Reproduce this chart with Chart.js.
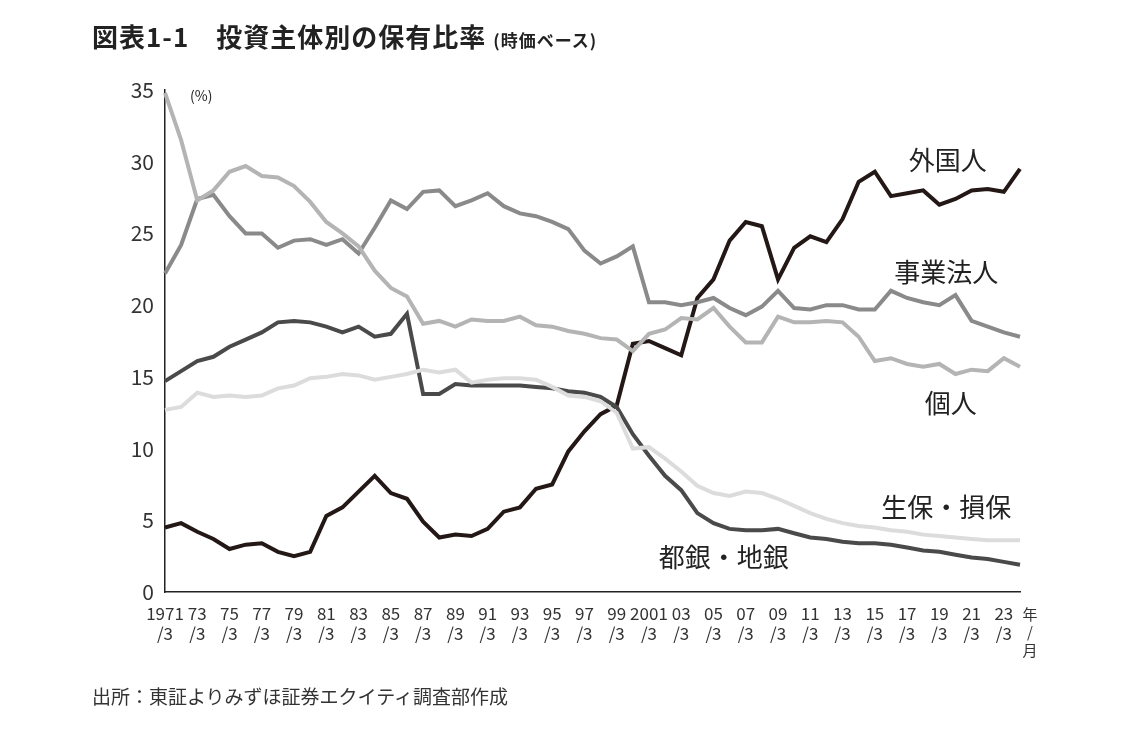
<!DOCTYPE html>
<html><head><meta charset="utf-8">
<script src="https://cdn.jsdelivr.net/npm/chart.js@4"></script>
<style>
body{margin:0;background:#fff;font-family:"Noto Sans CJK JP",sans-serif;}
#wrap{position:relative;width:1140px;height:736px;}
canvas{position:absolute;left:0;top:0;}
#title{position:absolute;left:92px;top:17px;font-size:26px;font-weight:bold;color:#222;letter-spacing:1px;}
#title small{font-size:17px;}
#src{position:absolute;left:92px;top:682px;font-size:19px;color:#333;}
</style></head><body>
<div id="wrap">
<canvas id="c" width="1140" height="736"></canvas>
<div id="title">図表1-1　投資主体別の保有比率 <small>(時価ベース)</small></div>
<div id="src">出所：東証よりみずほ証券エクイティ調査部作成</div>
</div>
<script>
const years = [];
for (let y = 1971; y <= 2024; y++) years.push(y);

const foreign = [4.5,4.8,4.2,3.7,3.0,3.3,3.4,2.8,2.5,2.8,5.3,5.9,7.0,8.1,6.9,6.5,4.9,3.8,4.0,3.9,4.4,5.6,5.9,7.2,7.5,9.8,11.2,12.4,13.0,17.3,17.5,17.0,16.5,20.5,21.8,24.5,25.8,25.5,21.8,24.0,24.8,24.4,26.0,28.6,29.3,27.6,27.8,28.0,27.0,27.4,28.0,28.1,27.9,29.5];
const business = [22.2,24.2,27.4,27.7,26.2,25.0,25.0,24.0,24.5,24.6,24.2,24.6,23.6,25.4,27.3,26.7,27.9,28.0,26.9,27.3,27.8,26.9,26.4,26.2,25.8,25.3,23.8,22.9,23.4,24.1,20.2,20.2,20.0,20.2,20.5,19.8,19.3,19.9,21.0,19.8,19.7,20.0,20.0,19.7,19.7,21.0,20.5,20.2,20.0,20.7,18.9,18.5,18.1,17.8];
const individual = [34.8,31.5,27.3,28.0,29.3,29.7,29.0,28.9,28.3,27.2,25.8,25.0,24.1,22.4,21.2,20.6,18.7,18.9,18.5,19.0,18.9,18.9,19.2,18.6,18.5,18.2,18.0,17.7,17.6,16.8,18.0,18.3,19.1,19.0,19.8,18.5,17.4,17.4,19.2,18.8,18.8,18.9,18.8,17.8,16.1,16.3,15.9,15.7,15.9,15.2,15.5,15.4,16.3,15.7];
const insurers = [12.7,12.9,13.9,13.6,13.7,13.6,13.7,14.2,14.4,14.9,15.0,15.2,15.1,14.8,15.0,15.2,15.5,15.3,15.5,14.6,14.8,14.9,14.9,14.8,14.3,13.7,13.6,13.3,12.5,10.0,10.1,9.3,8.4,7.4,6.9,6.7,7.0,6.9,6.5,6.0,5.5,5.1,4.8,4.6,4.5,4.3,4.2,4.0,3.9,3.8,3.7,3.6,3.6,3.6];
const banks = [14.7,15.4,16.1,16.4,17.1,17.6,18.1,18.8,18.9,18.8,18.5,18.1,18.5,17.8,18.0,19.4,13.8,13.8,14.5,14.4,14.4,14.4,14.4,14.3,14.2,14.0,13.9,13.6,12.9,11.0,9.5,8.1,7.1,5.5,4.8,4.4,4.3,4.3,4.4,4.1,3.8,3.7,3.5,3.4,3.4,3.3,3.1,2.9,2.8,2.6,2.4,2.3,2.1,1.9];

// label text, year anchor, value anchor
const seriesLabels = [
  ['外国人', 2017.1, 30.1],
  ['事業法人', 2016.2, 22.3],
  ['個人', 2018.1, 13.2],
  ['生保・損保', 2015.4, 5.9],
  ['都銀・地銀', 2001.6, 2.4]
];

function tickLabel(i) {
  const y = years[i];
  if ((y - 1971) % 2 !== 0) return '';
  if (y === 1971) return ['1971', '/3'];
  if (y === 2001) return ['2001', '/3'];
  return [String(y % 100).padStart(2, '0'), '/3'];
}

const ds = (label, data, color, w) => ({ label, data, borderColor: color, borderWidth: w, pointRadius: 0, tension: 0, fill: false });

const labelPlugin = {
  id: 'labels',
  afterDraw(chart) {
    const { ctx, scales: { x, y } } = chart;
    ctx.save();
    ctx.font = '26px "Noto Sans CJK JP"';
    ctx.fillStyle = '#222';
    ctx.textBaseline = 'middle';
    seriesLabels.forEach(([t, yr, v]) => {
      ctx.fillText(t, x.getPixelForValue(yr - 1971), y.getPixelForValue(v));
    });
    ctx.font = '14px "Noto Sans CJK JP"';
    ctx.fillText('(%)', 190, 96);
    ctx.font = '15px "Noto Sans CJK JP"';
    ctx.fillStyle = '#333';
    ctx.textAlign = 'center';
    ctx.fillText('年', 1030, 614);
    ctx.fillText('/', 1030, 632);
    ctx.fillText('月', 1030, 650);
    ctx.restore();
  }
};

new Chart(document.getElementById('c'), {
  type: 'line',
  data: {
    labels: years.map(String),
    datasets: [
      ds('生保・損保', insurers, '#dcdcdc', 4),
      ds('個人', individual, '#b4b4b4', 4),
      ds('事業法人', business, '#8a8a8a', 4),
      ds('都銀・地銀', banks, '#4a4a4a', 4),
      ds('外国人', foreign, '#231816', 4)
    ]
  },
  options: {
    responsive: false,
    animation: false,
    layout: { padding: { left: 0, top: 90, right: 120, bottom: 0 } },
    plugins: { legend: { display: false }, tooltip: { enabled: false } },
    scales: {
      x: {
        offset: false,
        grid: { display: false, drawTicks: true, tickLength: 8, color: '#222' },
        border: { color: '#222', width: 1.5 },
        afterFit(s) { s.height = 144; },
        ticks: {
          autoSkip: false, maxRotation: 0, color: '#333',
          font: { size: 17, family: '"Noto Sans CJK JP"' },
          callback: (v, i) => tickLabel(i)
        }
      },
      y: {
        min: 0, max: 35,
        grid: { display: false },
        border: { color: '#222', width: 1.5 },
        afterFit(s) { s.width = 165; },
        ticks: { stepSize: 5, color: '#333', font: { size: 21, family: '"Noto Sans CJK JP"' } }
      }
    }
  },
  plugins: [labelPlugin]
});
</script>
</body></html>
